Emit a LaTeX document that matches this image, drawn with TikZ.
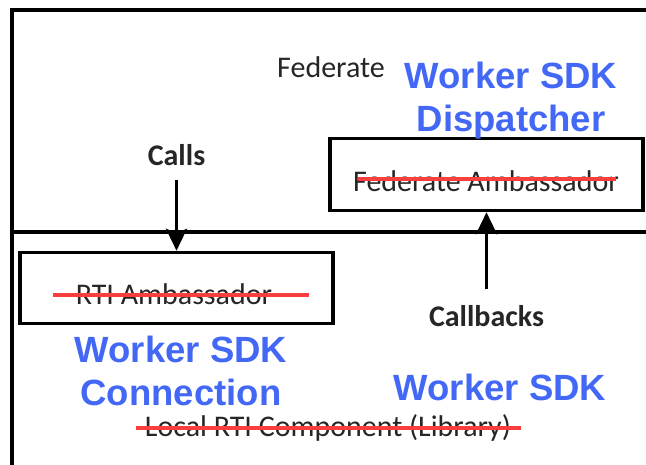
\documentclass[tikz,border=0pt]{standalone}
\usepackage{fontspec}
\setmainfont{Carlito}
\newfontfamily\headfont{Liberation Sans}
\usetikzlibrary{arrows.meta}
\definecolor{sdkblue}{RGB}{66,104,245}
\definecolor{strikered}{RGB}{250,62,62}
\begin{document}
\begin{tikzpicture}[x=1pt,y=-1pt,
  frameline/.style={draw=black,line width=3.2pt},
  ambbox/.style={draw=black,line width=3.6pt,inner sep=0pt},
  plain/.style={font=\fontsize{30}{34}\selectfont,text=black!85,inner sep=0pt},
  flow/.style={font=\fontsize{30}{34}\selectfont\bfseries,text=black!85,inner sep=0pt},
  sdk/.style={font=\headfont\fontsize{36.5}{43}\selectfont\bfseries,text=sdkblue,align=center,inner sep=0pt},
  strike/.style={draw=strikered,line width=3.2pt},
  arr/.style={draw=black,line width=3.6pt,-{Stealth[width=21pt,length=22pt,inset=5pt]}}]
\clip (0,0) rectangle (646,465);
\fill[white] (0,0) rectangle (646,465);

% outer federate frame and the split into two layers
\draw[frameline] (660,10) -- (12,10) -- (12,480);
\draw[frameline] (12,232) -- (660,232);

% ambassador boxes
\node[ambbox,minimum width=313pt,minimum height=72pt] (fedamb) at (486.5,174.5) {};
\node[ambbox,minimum width=313pt,minimum height=71pt] (rti) at (176.5,288) {};

% labels
\node[plain] (federate) at (331,67) {Federate};
\node[sdk] (dispatcher) at (511,101) {Worker SDK\\Dispatcher};
\node[flow] (calls) at (176.5,155) {Calls};
\node[plain] (fedtext) at (486,181) {Federate Ambassador};
\node[plain] (rtitext) at (174,294) {RTI Ambassador};
\node[flow] (callbacks) at (486.5,316) {Callbacks};
\node[sdk] (connection) at (181,371) {Worker SDK\\Connection};
\node[sdk] (workersdk) at (500,387) {Worker SDK};
\node[plain] (localrti) at (328,428) {Local RTI Component (Library)};

% flows between the layers
\draw[arr] ([yshift=-14pt]calls.south) -- (rti.north);
\draw[arr] ([yshift=16pt]callbacks.north) -- (fedamb.south);

% struck-out HLA terms
\draw[strike] (358,179) -- (616,179);
\draw[strike] (53,295) -- (309,295);
\draw[strike] (136,428) -- (521,428);
\end{tikzpicture}
\end{document}
